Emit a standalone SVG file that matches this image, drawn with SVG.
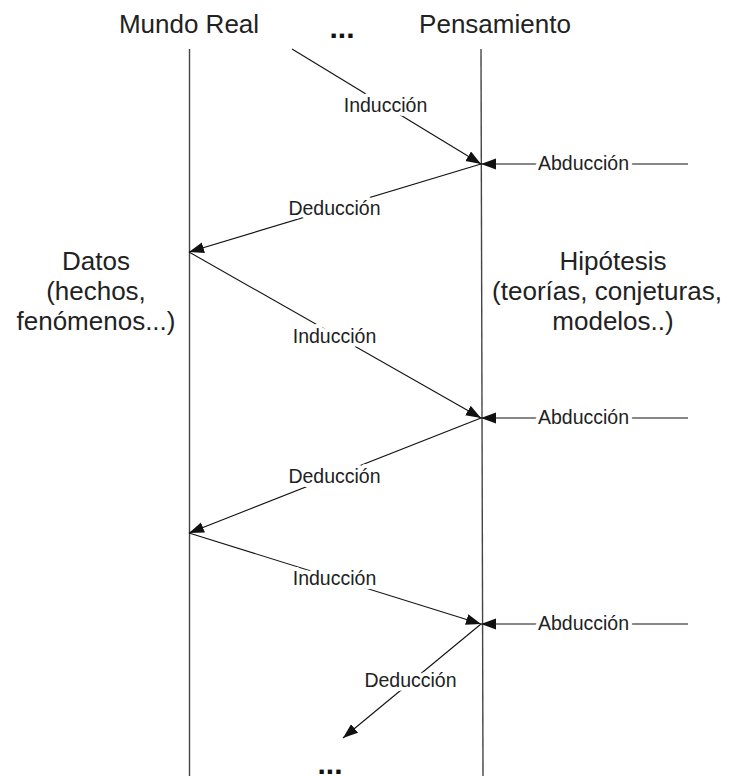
<svg xmlns="http://www.w3.org/2000/svg" width="733" height="776" viewBox="0 0 733 776">
  <style>
    .axis { stroke: #444; stroke-width: 1.4; fill: none; }
    .flow { stroke: #111; stroke-width: 1.1; fill: none; marker-end: url(#head); }
    .title { font-family: "Liberation Sans", Arial, sans-serif; font-size: 26px; fill: #222; text-anchor: middle; }
    .big { font-family: "Liberation Sans", Arial, sans-serif; font-size: 26px; fill: #222; text-anchor: middle; }
    .lbl { font-family: "Liberation Sans", Arial, sans-serif; font-size: 19.5px; fill: #222; text-anchor: middle;
           stroke: #fff; stroke-width: 8px; paint-order: stroke; stroke-linejoin: round; }
    .dots { font-family: "Liberation Sans", Arial, sans-serif; font-size: 30px; font-weight: bold; fill: #111; text-anchor: middle; }
  </style>
  <defs>
    <marker id="head" markerUnits="userSpaceOnUse" markerWidth="16" markerHeight="12" refX="15" refY="5.5" orient="auto">
      <path d="M0,0 L15,5.5 L0,11 z" fill="#111"/>
    </marker>
  </defs>

  <rect width="733" height="776" fill="#fff"/>

  <!-- column headings and their time lines -->
  <g id="mundo-real">
    <text class="title" x="189" y="33">Mundo Real</text>
    <line class="axis" x1="189.5" y1="49" x2="189.5" y2="776"/>
  </g>
  <g id="pensamiento">
    <text class="title" x="495" y="33">Pensamiento</text>
    <line class="axis" x1="481" y1="49" x2="483" y2="776"/>
  </g>
  <g id="dots-top"><text class="dots" x="342" y="38">...</text></g>
  <g id="dots-bottom"><text class="dots" x="330" y="774">...</text></g>

  <!-- side captions -->
  <g id="datos">
    <text class="big" x="96" y="270">Datos</text>
    <text class="big" x="96" y="300">(hechos,</text>
    <text class="big" x="96" y="330">fenómenos...)</text>
  </g>
  <g id="hipotesis">
    <text class="big" x="613" y="270">Hipótesis</text>
    <text class="big" x="607" y="300">(teorías, conjeturas,</text>
    <text class="big" x="613" y="330">modelos..)</text>
  </g>

  <!-- reasoning steps -->
  <g id="connectors">
    <line class="flow" x1="292" y1="49" x2="481" y2="164"/>
    <line class="flow" x1="688" y1="164" x2="481" y2="164"/>
    <line class="flow" x1="481" y1="164" x2="189" y2="252"/>
    <line class="flow" x1="189" y1="252" x2="481" y2="418"/>
    <line class="flow" x1="688" y1="418" x2="481" y2="418"/>
    <line class="flow" x1="481" y1="418" x2="189" y2="533"/>
    <line class="flow" x1="189" y1="533" x2="481" y2="624"/>
    <line class="flow" x1="688" y1="624" x2="481" y2="624"/>
    <line class="flow" x1="481" y1="624" x2="343" y2="738"/>
  </g>

  <g id="labels">
    <text class="lbl" x="385.5" y="112">Inducción</text>
    <text class="lbl" x="583.5" y="170">Abducción</text>
    <text class="lbl" x="334.5" y="215">Deducción</text>
    <text class="lbl" x="334.5" y="343">Inducción</text>
    <text class="lbl" x="583.5" y="424">Abducción</text>
    <text class="lbl" x="334.5" y="483">Deducción</text>
    <text class="lbl" x="334.5" y="585">Inducción</text>
    <text class="lbl" x="583.5" y="630">Abducción</text>
    <text class="lbl" x="410.5" y="687">Deducción</text>
  </g>
</svg>
